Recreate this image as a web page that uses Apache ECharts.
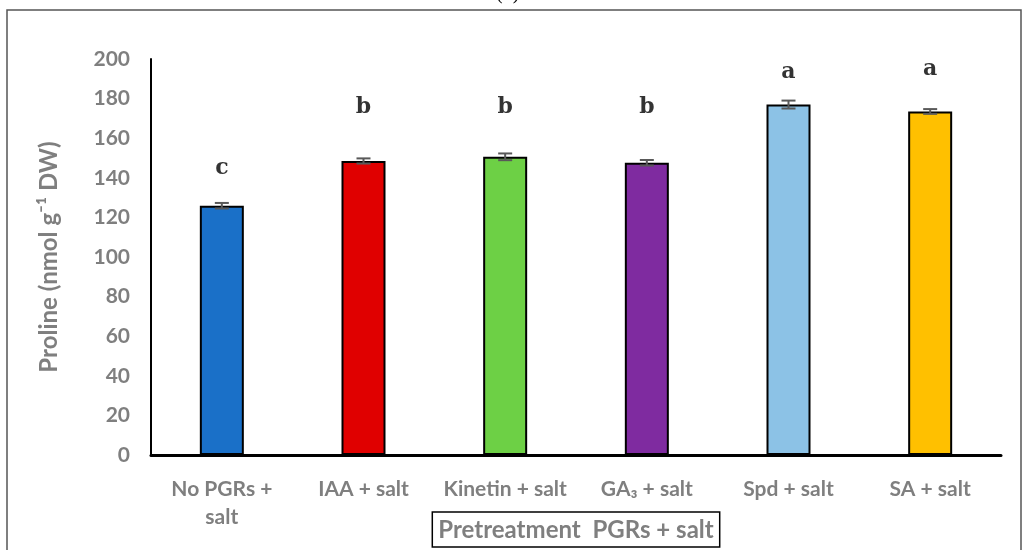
<!DOCTYPE html>
<html><head><meta charset="utf-8">
<script src="https://cdn.jsdelivr.net/npm/echarts@6/dist/echarts.min.js"></script>
<style>html,body{margin:0;padding:0;background:#fff}#c{width:1025px;height:550px}</style>
</head><body><div id="c"></div>
<script>
const categories = ['No PGRs +\nsalt', 'IAA + salt', 'Kinetin + salt', 'GA\u2083 + salt', 'Spd + salt', 'SA + salt'];
const values = [125.9, 148.5, 150.6, 147.6, 177.0, 173.5];
const errors = [1.4, 1.3, 1.7, 1.4, 2.0, 1.2];
const letters = ['c', 'b', 'b', 'b', 'a', 'a'];
const letterPos = [145, 175.5, 175.5, 175.5, 193.5, 195];
const colors = ['#1a70c8', '#e00000', '#6dd045', '#7f2ba0', '#8cc2e6', '#ffc000'];
const yTicks = [0, 20, 40, 60, 80, 100, 120, 140, 160, 180, 200];

const chart = echarts.init(document.getElementById('c'));
const gray = '#7f7f7f';
chart.setOption({
  animation: false,
  graphic: [
    {type: 'rect', shape: {x: 7, y: 10, width: 1014, height: 560}, style: {fill: 'none', stroke: '#555', lineWidth: 1.5}},
    {type: 'text', left: 496, top: -16, style: {text: '(b)', font: '20px "Liberation Serif"', fill: '#000'}}
  ],
  grid: {left: 151, right: 24, top: 59, bottom: 95, containLabel: false, outerBoundsMode: 'none'},
  xAxis: {
    type: 'category', data: categories,
    axisLine: {lineStyle: {color: '#000', width: 3}},
    axisTick: {show: false},
    axisLabel: {color: gray, fontFamily: 'Lato', fontWeight: 'bold', fontSize: 21, margin: 20, lineHeight: 28, interval: 0},
    name: 'Pretreatment  PGRs + salt', nameLocation: 'middle', nameGap: 57, nameMoveOverlap: false,
    nameTextStyle: {color: gray, fontFamily: 'Lato', fontWeight: 'bold', fontSize: 24,
      borderColor: '#000', borderWidth: 1.5, padding: [6, 6, 5, 6]}
  },
  yAxis: {
    type: 'value', min: 0, max: 200, interval: 20,
    axisLine: {show: true, lineStyle: {color: '#000', width: 2}},
    axisTick: {show: false},
    splitLine: {show: false},
    axisLabel: {color: gray, fontFamily: 'Lato', fontWeight: 'bold', fontSize: 21, margin: 21,
      formatter: v => yTicks.includes(v) ? String(v) : ''},
    name: 'Proline (nmol g\u207B\u00B9 DW)', nameLocation: 'middle', nameGap: 90, nameRotate: 90, nameMoveOverlap: false,
    nameTextStyle: {color: gray, fontFamily: 'Lato', fontWeight: 'bold', fontSize: 24}
  },
  series: [
    {
      type: 'bar', barWidth: 44,
      data: values.map((v, i) => ({value: v, itemStyle: {color: colors[i]}})),
      itemStyle: {borderColor: '#000', borderWidth: 2}
    },
    {
      type: 'custom', z: 10,
      data: values.map((v, i) => [i, v - errors[i], v + errors[i]]),
      renderItem: (params, api) => {
        const lo = api.coord([api.value(0), api.value(1)]);
        const hi = api.coord([api.value(0), api.value(2)]);
        const hw = 7;
        const st = {stroke: '#595959', lineWidth: 2};
        return {type: 'group', children: [
          {type: 'line', shape: {x1: lo[0], y1: lo[1], x2: hi[0], y2: hi[1]}, style: st},
          {type: 'line', shape: {x1: lo[0] - hw, y1: lo[1], x2: lo[0] + hw, y2: lo[1]}, style: st},
          {type: 'line', shape: {x1: hi[0] - hw, y1: hi[1], x2: hi[0] + hw, y2: hi[1]}, style: st}
        ]};
      }
    },
    {
      type: 'scatter', symbolSize: 0,
      data: letterPos.map((p, i) => [i, p]),
      label: {show: true, position: 'inside', formatter: p => letters[p.dataIndex],
        color: '#000', fontFamily: '"DejaVu Serif"', fontWeight: 'bold', fontSize: 22}
    }
  ]
});
</script></body></html>
